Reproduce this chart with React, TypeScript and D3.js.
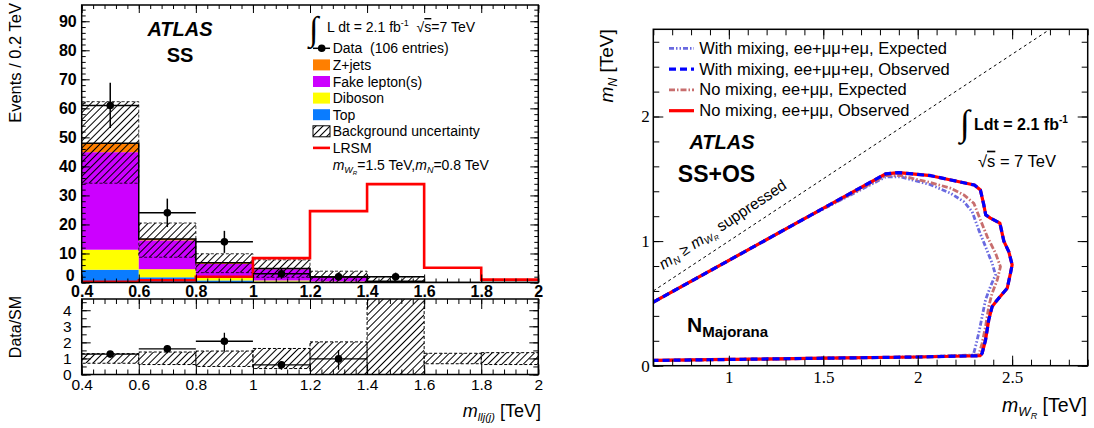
import React, { useRef, useEffect } from 'react';
import * as d3 from 'd3';

// ---- left plot: m_llj(j), SS channel ----
const binEdges = [0.4, 0.6, 0.8, 1.0, 1.2, 1.4, 1.6, 1.8, 2.0];
const topBkg = [4.4, 1.8, 0.7, 0.3, 0.1, 0.05, 0, 0];
const dibosonBkg = [6.9, 2.8, 0.9, 0.4, 0.25, 0.05, 0, 0];
const fakeBkg = [33.6, 9.9, 4.8, 3.9, 1.45, 0.3, 0, 0];
const zjetsBkg = [3.1, 0.5, 0.4, 0.2, 0.1, 0, 0, 0];
const bkgUncLow = [34.2, 8.7, 3.4, 1.8, 0, 0];
const bkgUncHigh = [62.3, 20.5, 9.9, 7.8, 3.9, 2.0];
const lrsmSignal = [0.2, 0.8, 2.0, 8.4, 24.6, 33.9, 5.1, 1.0];
const dataCounts = [61, 24, 14, 3, 2, 2];
const dataErr = [7.8, 4.9, 3.8, 1.7, 1.4, 1.4];
const yTicksTop = [0, 10, 20, 30, 40, 50, 60, 70, 80, 90];
const xTicksLeft = [0.4, 0.6, 0.8, 1, 1.2, 1.4, 1.6, 1.8, 2];

// ratio panel
const ratioVals = [1.27, 1.6, 2.07, 0.6, 0.97];
const ratioErrUp = [0.17, 0.23, 0.53, 0.21, 0.55];
const ratioErrDown = [0.17, 0.28, 0.61, 0.3, 0.67];
const ratioBandLow = [0.7, 0.62, 0.5, 0.37, 0, 0, 0.67, 0.62];
const ratioBandHigh = [1.3, 1.4, 1.46, 1.62, 2.03, 6, 1.32, 1.36];
const ratioYTicks = [0, 1, 2, 3, 4];

// ---- right plot: exclusion in (m_WR, m_N) ----
const obsNoMixing = [
  [0.6, 0.51], [1.0, 0.845], [1.4, 1.18], [1.83, 1.54], [1.9, 1.55], [2.07, 1.525],
  [2.3, 1.45], [2.332, 1.41], [2.35, 1.29], [2.36, 1.21], [2.385, 1.185], [2.435, 1.145],
  [2.456, 1.0], [2.482, 0.916], [2.5, 0.81], [2.491, 0.742], [2.474, 0.622], [2.421, 0.528],
  [2.394, 0.474], [2.376, 0.367], [2.359, 0.206], [2.341, 0.1], [2.33, 0.08],
  [2.0, 0.07], [1.5, 0.06], [1.0, 0.05], [0.6, 0.042],
];
const obsMixing = [
  [0.6, 0.51], [1.0, 0.845], [1.4, 1.18], [1.83, 1.54], [1.9, 1.55], [2.07, 1.525],
  [2.3, 1.45], [2.332, 1.41], [2.35, 1.29], [2.36, 1.21], [2.385, 1.185], [2.435, 1.145],
  [2.456, 1.0], [2.482, 0.916], [2.5, 0.81], [2.491, 0.742], [2.474, 0.622], [2.421, 0.528],
  [2.394, 0.474], [2.376, 0.367], [2.359, 0.206], [2.341, 0.1], [2.33, 0.08],
  [2.0, 0.07], [1.5, 0.06], [1.0, 0.05], [0.6, 0.042],
];
const expNoMixing = [
  [0.6, 0.51], [1.0, 0.845], [1.4, 1.18], [1.83, 1.525], [1.91, 1.525], [2.067, 1.47],
  [2.173, 1.425], [2.244, 1.371], [2.297, 1.304], [2.332, 1.17], [2.368, 1.036], [2.412, 0.903],
  [2.438, 0.795], [2.421, 0.688], [2.394, 0.582], [2.376, 0.474], [2.359, 0.313], [2.341, 0.18],
  [2.323, 0.086], [2.0, 0.07], [1.5, 0.06], [1.0, 0.05], [0.6, 0.042],
];
const expMixing = [
  [0.6, 0.51], [1.0, 0.845], [1.4, 1.18], [1.83, 1.515], [1.91, 1.515], [2.067, 1.453],
  [2.173, 1.385], [2.244, 1.317], [2.288, 1.237], [2.323, 1.09], [2.359, 0.956], [2.394, 0.822],
  [2.412, 0.729], [2.385, 0.635], [2.359, 0.528], [2.341, 0.394], [2.323, 0.26], [2.306, 0.153],
  [2.294, 0.086], [2.0, 0.07], [1.5, 0.06], [1.0, 0.05], [0.6, 0.042],
];
const xTicksRight = [1, 1.5, 2, 2.5];
const yTicksRight = [0, 1, 2];

const sans = "'Liberation Sans', Arial, Helvetica, sans-serif";
const serif = "'Liberation Serif', 'Times New Roman', serif";

function App() {
  const svgRef = useRef(null);

  useEffect(() => {
    const svg = d3.select(svgRef.current);
    svg.selectAll('*').remove();

    const defs = svg.append('defs');
    const pat = defs.append('pattern').attr('id', 'hatch')
      .attr('patternUnits', 'userSpaceOnUse').attr('width', 5).attr('height', 5)
      .attr('patternTransform', 'rotate(45)');
    pat.append('line').attr('x1', 2.5).attr('y1', -1).attr('x2', 2.5).attr('y2', 6)
      .attr('stroke', '#000').attr('stroke-width', 1);

    // ================= left plot =================
    const L = { left: 81.7, right: 538.3, top: 5, bottom: 282.5, rTop: 299, rBottom: 374.5 };
    const x = d3.scaleLinear().domain([0.4, 2]).range([L.left, L.right]);
    const y = d3.scaleLinear().domain([0, 95.6]).range([L.bottom, L.top]);
    const yr = d3.scaleLinear().domain([0, 4.7]).range([L.rBottom, L.rTop]);

    defs.append('clipPath').attr('id', 'clipTop').append('rect')
      .attr('x', L.left).attr('y', L.top).attr('width', L.right - L.left).attr('height', L.bottom - L.top);
    defs.append('clipPath').attr('id', 'clipRatio').append('rect')
      .attr('x', L.left).attr('y', L.rTop).attr('width', L.right - L.left).attr('height', L.rBottom - L.rTop);

    const rows = binEdges.slice(0, -1).map((lo, i) => ({
      lo, hi: binEdges[i + 1],
      top: topBkg[i], diboson: dibosonBkg[i], fake: fakeBkg[i], zjets: zjetsBkg[i],
    }));
    const colors = { top: '#0a7cff', diboson: '#ffff00', fake: '#cc00ff', zjets: '#ff7f00' };
    const stacked = d3.stack().keys(['top', 'diboson', 'fake', 'zjets'])(rows);
    const totals = rows.map(r => r.top + r.diboson + r.fake + r.zjets);

    const gTop = svg.append('g').attr('clip-path', 'url(#clipTop)');
    gTop.selectAll('g.layer').data(stacked).join('g').attr('class', 'layer')
      .attr('fill', d => colors[d.key])
      .selectAll('rect').data(d => d).join('rect')
      .attr('x', d => x(d.data.lo)).attr('width', d => x(d.data.hi) - x(d.data.lo))
      .attr('y', d => y(d[1])).attr('height', d => y(d[0]) - y(d[1]));

    gTop.selectAll('rect.unc').data(bkgUncHigh).join('rect').attr('class', 'unc')
      .attr('x', (d, i) => x(binEdges[i])).attr('width', (d, i) => x(binEdges[i + 1]) - x(binEdges[i]))
      .attr('y', d => y(d)).attr('height', (d, i) => y(bkgUncLow[i]) - y(d))
      .attr('fill', 'url(#hatch)').attr('stroke', '#000').attr('stroke-width', 0.8)
      .attr('stroke-dasharray', '3,2');

    const stepLine = (vals, ys) => d3.line()
      .x((d, i) => x(binEdges[i])).y(d => ys(d)).curve(d3.curveStepAfter)([...vals, vals[vals.length - 1]]);

    gTop.append('path').attr('d', stepLine(totals, y))
      .attr('fill', 'none').attr('stroke', '#000').attr('stroke-width', 1.5);
    gTop.append('path').attr('d', stepLine(lrsmSignal, y))
      .attr('fill', 'none').attr('stroke', '#ff0000').attr('stroke-width', 2.6);

    const gData = svg.append('g');
    dataCounts.forEach((v, i) => {
      const cx = x((binEdges[i] + binEdges[i + 1]) / 2);
      gData.append('line').attr('x1', x(binEdges[i])).attr('x2', x(binEdges[i + 1]))
        .attr('y1', y(v)).attr('y2', y(v)).attr('stroke', '#000').attr('stroke-width', 1.5);
      gData.append('line').attr('x1', cx).attr('x2', cx)
        .attr('y1', y(v - dataErr[i])).attr('y2', y(v + dataErr[i])).attr('stroke', '#000').attr('stroke-width', 1.5);
      gData.append('circle').attr('cx', cx).attr('cy', y(v)).attr('r', 3.8).attr('fill', '#000');
    });

    // ratio panel
    const gRatio = svg.append('g').attr('clip-path', 'url(#clipRatio)');
    gRatio.selectAll('rect').data(ratioBandHigh).join('rect')
      .attr('x', (d, i) => x(binEdges[i])).attr('width', (d, i) => x(binEdges[i + 1]) - x(binEdges[i]))
      .attr('y', d => yr(d)).attr('height', (d, i) => yr(ratioBandLow[i]) - yr(d))
      .attr('fill', 'url(#hatch)').attr('stroke', '#000').attr('stroke-width', 1)
      .attr('stroke-dasharray', '3,2');
    ratioVals.forEach((v, i) => {
      const cx = x((binEdges[i] + binEdges[i + 1]) / 2);
      gRatio.append('line').attr('x1', x(binEdges[i])).attr('x2', x(binEdges[i + 1]))
        .attr('y1', yr(v)).attr('y2', yr(v)).attr('stroke', '#000').attr('stroke-width', 1.3);
      gRatio.append('line').attr('x1', cx).attr('x2', cx)
        .attr('y1', yr(v - ratioErrDown[i])).attr('y2', yr(v + ratioErrUp[i])).attr('stroke', '#000').attr('stroke-width', 1.3);
      gRatio.append('circle').attr('cx', cx).attr('cy', yr(v)).attr('r', 3.8).attr('fill', '#000');
    });

    // frames
    svg.append('rect').attr('x', L.left).attr('y', L.top).attr('width', L.right - L.left)
      .attr('height', L.bottom - L.top).attr('fill', 'none').attr('stroke', '#000').attr('stroke-width', 1.5);
    svg.append('rect').attr('x', L.left).attr('y', L.rTop).attr('width', L.right - L.left)
      .attr('height', L.rBottom - L.rTop).attr('fill', 'none').attr('stroke', '#000').attr('stroke-width', 1.5);

    const style = (g, size, weight, family) => {
      g.attr('font-size', size).attr('font-family', family).attr('font-weight', weight);
      g.select('.domain').remove();
      g.selectAll('line').attr('stroke', '#000');
      g.selectAll('text').attr('fill', '#000');
    };
    const noLabel = () => '';
    const fmt = d3.format('~g');
    const xMinor = d3.range(0, 41).map(i => 0.4 + i * 0.04);

    // top panel axes
    svg.append('g').attr('transform', `translate(${L.left},0)`)
      .call(d3.axisLeft(y).tickValues(yTicksTop).tickSize(-8).tickPadding(5).tickFormat(fmt))
      .call(g => style(g, 16, 'bold', sans))
      .call(g => g.selectAll('text').filter(d => d === 0).attr('dy', '-0.12em').attr('dx', '-2'));
    svg.append('g').attr('transform', `translate(${L.left},0)`)
      .call(d3.axisLeft(y).tickValues(d3.range(0, 95, 2)).tickSize(-4).tickFormat(noLabel))
      .call(g => style(g, 10, 'normal', sans));
    svg.append('g').attr('transform', `translate(${L.right},0)`)
      .call(d3.axisRight(y).tickValues(yTicksTop).tickSize(-8).tickFormat(noLabel))
      .call(g => style(g, 10, 'normal', sans));
    svg.append('g').attr('transform', `translate(${L.right},0)`)
      .call(d3.axisRight(y).tickValues(d3.range(0, 95, 2)).tickSize(-4).tickFormat(noLabel))
      .call(g => style(g, 10, 'normal', sans));
    svg.append('g').attr('transform', `translate(0,${L.bottom})`)
      .call(d3.axisBottom(x).tickValues(xTicksLeft).tickSize(-8).tickPadding(3).tickFormat(fmt))
      .call(g => style(g, 16, 'bold', sans));
    svg.append('g').attr('transform', `translate(0,${L.bottom})`)
      .call(d3.axisBottom(x).tickValues(xMinor).tickSize(-4).tickFormat(noLabel))
      .call(g => style(g, 10, 'normal', sans));
    svg.append('g').attr('transform', `translate(0,${L.top})`)
      .call(d3.axisTop(x).tickValues(xTicksLeft).tickSize(-8).tickFormat(noLabel))
      .call(g => style(g, 10, 'normal', sans));
    svg.append('g').attr('transform', `translate(0,${L.top})`)
      .call(d3.axisTop(x).tickValues(xMinor).tickSize(-4).tickFormat(noLabel))
      .call(g => style(g, 10, 'normal', sans));

    // ratio axes
    svg.append('g').attr('transform', `translate(${L.left},0)`)
      .call(d3.axisLeft(yr).tickValues(ratioYTicks).tickSize(-9).tickPadding(10).tickFormat(fmt))
      .call(g => style(g, 15.5, 'normal', sans));
    svg.append('g').attr('transform', `translate(${L.left},0)`)
      .call(d3.axisLeft(yr).tickValues(d3.range(0, 4.7, 0.5)).tickSize(-5).tickFormat(noLabel))
      .call(g => style(g, 10, 'normal', sans));
    svg.append('g').attr('transform', `translate(${L.right},0)`)
      .call(d3.axisRight(yr).tickValues(ratioYTicks).tickSize(-9).tickFormat(noLabel))
      .call(g => style(g, 10, 'normal', sans));
    svg.append('g').attr('transform', `translate(${L.right},0)`)
      .call(d3.axisRight(yr).tickValues(d3.range(0, 4.7, 0.5)).tickSize(-5).tickFormat(noLabel))
      .call(g => style(g, 10, 'normal', sans));
    svg.append('g').attr('transform', `translate(0,${L.rBottom})`)
      .call(d3.axisBottom(x).tickValues(xTicksLeft).tickSize(-10).tickPadding(4.5).tickFormat(fmt))
      .call(g => style(g, 15.5, 'normal', sans));
    svg.append('g').attr('transform', `translate(0,${L.rBottom})`)
      .call(d3.axisBottom(x).tickValues(xMinor).tickSize(-5).tickFormat(noLabel))
      .call(g => style(g, 10, 'normal', sans));
    svg.append('g').attr('transform', `translate(0,${L.rTop})`)
      .call(d3.axisTop(x).tickValues(xTicksLeft).tickSize(-10).tickFormat(noLabel))
      .call(g => style(g, 10, 'normal', sans));
    svg.append('g').attr('transform', `translate(0,${L.rTop})`)
      .call(d3.axisTop(x).tickValues(xMinor).tickSize(-5).tickFormat(noLabel))
      .call(g => style(g, 10, 'normal', sans));

    // left texts
    const txt = (px, py, size, opts = {}) => svg.append('text')
      .attr('x', px).attr('y', py).attr('font-size', size)
      .attr('font-family', opts.family || sans).attr('font-weight', opts.weight || 'normal')
      .attr('font-style', opts.style || 'normal').attr('text-anchor', opts.anchor || 'start')
      .attr('fill', '#000');

    svg.append('text').attr('transform', 'translate(21,3) rotate(-90)').attr('text-anchor', 'end')
      .attr('font-family', sans).attr('font-size', 16.5).text('Events / 0.2 TeV');
    svg.append('text').attr('transform', 'translate(21,327) rotate(-90)').attr('text-anchor', 'middle')
      .attr('font-family', sans).attr('font-size', 16).text('Data/SM');
    txt(180, 36, 20, { weight: 'bold', style: 'italic', anchor: 'middle' }).text('ATLAS');
    txt(180, 62, 20, { weight: 'bold', anchor: 'middle' }).text('SS');

    const xt = txt(541, 417, 18, { anchor: 'end' });
    xt.append('tspan').attr('font-style', 'italic').text('m');
    xt.append('tspan').attr('font-style', 'italic').attr('font-size', 11).attr('dy', 4).text('llj(j)');
    xt.append('tspan').attr('dy', -4).text(' [TeV]');

    // left legend
    txt(309, 40, 34, { family: serif }).text('∫');
    const lum = txt(327, 32, 14);
    lum.append('tspan').text('L dt = 2.1 fb');
    lum.append('tspan').attr('font-size', 9).attr('dy', -6).text('-1');
    lum.append('tspan').attr('dy', 6).text('\u00a0\u00a0√');
    lum.append('tspan').attr('text-decoration', 'overline').text('s');
    lum.append('tspan').text('=7 TeV');

    const legLeft = [
      { label: 'Data\u00a0\u00a0(106 entries)', kind: 'data' },
      { label: 'Z+jets', kind: 'box', fill: colors.zjets },
      { label: 'Fake lepton(s)', kind: 'box', fill: colors.fake },
      { label: 'Diboson', kind: 'box', fill: colors.diboson },
      { label: 'Top', kind: 'box', fill: colors.top },
      { label: 'Background uncertainty', kind: 'hatch' },
      { label: 'LRSM', kind: 'line' },
    ];
    legLeft.forEach((e, i) => {
      const cy = 48.3 + i * 16.6;
      if (e.kind === 'data') {
        svg.append('line').attr('x1', 313).attr('x2', 330).attr('y1', cy).attr('y2', cy).attr('stroke', '#000').attr('stroke-width', 1.5);
        svg.append('circle').attr('cx', 321.7).attr('cy', cy).attr('r', 3.8).attr('fill', '#000');
      } else if (e.kind === 'box') {
        svg.append('rect').attr('x', 313).attr('y', cy - 5.5).attr('width', 17).attr('height', 11).attr('fill', e.fill);
      } else if (e.kind === 'hatch') {
        svg.append('rect').attr('x', 313).attr('y', cy - 5.5).attr('width', 17).attr('height', 11)
          .attr('fill', 'url(#hatch)').attr('stroke', '#000').attr('stroke-width', 1);
      } else {
        svg.append('line').attr('x1', 313).attr('x2', 330).attr('y1', cy).attr('y2', cy).attr('stroke', '#ff0000').attr('stroke-width', 2.6);
      }
      txt(332.7, cy + 5, 14).text(e.label);
    });
    const sig = txt(332.7, 48.3 + 7 * 16.6 + 5, 14);
    sig.append('tspan').attr('font-style', 'italic').text('m');
    sig.append('tspan').attr('font-style', 'italic').attr('font-size', 9).attr('dy', 3).text('W');
    sig.append('tspan').attr('font-style', 'italic').attr('font-size', 6).attr('dy', 2).text('R');
    sig.append('tspan').attr('dy', -5).text('=1.5 TeV,');
    sig.append('tspan').attr('font-style', 'italic').text('m');
    sig.append('tspan').attr('font-style', 'italic').attr('font-size', 9).attr('dy', 3).text('N');
    sig.append('tspan').attr('dy', -3).text('=0.8 TeV');

    // ================= right plot =================
    const R = { left: 653.3, right: 1087.7, top: 29.3, bottom: 365.7 };
    const xR = d3.scaleLinear().domain([0.6, 2.9]).range([R.left, R.right]);
    const yR = d3.scaleLinear().domain([0, 2.7]).range([R.bottom, R.top]);
    defs.append('clipPath').attr('id', 'clipRight').append('rect')
      .attr('x', R.left).attr('y', R.top).attr('width', R.right - R.left).attr('height', R.bottom - R.top);

    const gR = svg.append('g').attr('clip-path', 'url(#clipRight)');
    // kinematic boundary m_N = m_WR
    gR.append('line').attr('x1', xR(0.6)).attr('y1', yR(0.6)).attr('x2', xR(2.7)).attr('y2', yR(2.7))
      .attr('stroke', '#000').attr('stroke-width', 1).attr('stroke-dasharray', '3,3');

    const contour = d3.line().x(d => xR(d[0])).y(d => yR(d[1]));
    const styles = {
      expMix: { color: '#6a6ae0', dash: '5,2,1.5,2,1.5,2', width: 2.8 },
      obsMix: { color: '#0000ff', dash: '7,4', width: 3.2 },
      expNo: { color: '#c86e6e', dash: '6,2,1.5,2', width: 2.8 },
      obsNo: { color: '#ff0000', dash: null, width: 3.2 },
    };
    const drawC = (pts, s) => gR.append('path').attr('d', contour(pts)).attr('fill', 'none')
      .attr('stroke', s.color).attr('stroke-width', s.width).attr('stroke-dasharray', s.dash)
      .attr('stroke-linejoin', 'round');
    drawC(expMixing, styles.expMix);
    drawC(expNoMixing, styles.expNo);
    drawC(obsNoMixing, styles.obsNo);
    drawC(obsMixing, styles.obsMix);

    svg.append('rect').attr('x', R.left).attr('y', R.top).attr('width', R.right - R.left)
      .attr('height', R.bottom - R.top).attr('fill', 'none').attr('stroke', '#000').attr('stroke-width', 1.5);

    const xMinorR = d3.range(6, 30).map(i => i / 10);
    const yMinorR = d3.range(0, 14).map(i => i / 5);
    svg.append('g').attr('transform', `translate(0,${R.bottom})`)
      .call(d3.axisBottom(xR).tickValues(xTicksRight).tickSize(-10).tickPadding(5.5).tickFormat(fmt))
      .call(g => style(g, 17, 'normal', serif));
    svg.append('g').attr('transform', `translate(0,${R.bottom})`)
      .call(d3.axisBottom(xR).tickValues(xMinorR).tickSize(-6).tickFormat(noLabel))
      .call(g => style(g, 10, 'normal', serif));
    svg.append('g').attr('transform', `translate(0,${R.top})`)
      .call(d3.axisTop(xR).tickValues(xTicksRight).tickSize(-10).tickFormat(noLabel))
      .call(g => style(g, 10, 'normal', serif));
    svg.append('g').attr('transform', `translate(0,${R.top})`)
      .call(d3.axisTop(xR).tickValues(xMinorR).tickSize(-6).tickFormat(noLabel))
      .call(g => style(g, 10, 'normal', serif));
    svg.append('g').attr('transform', `translate(${R.left},0)`)
      .call(d3.axisLeft(yR).tickValues(yTicksRight).tickSize(-10).tickPadding(3.5).tickFormat(fmt))
      .call(g => style(g, 17, 'normal', serif));
    svg.append('g').attr('transform', `translate(${R.left},0)`)
      .call(d3.axisLeft(yR).tickValues(yMinorR).tickSize(-6).tickFormat(noLabel))
      .call(g => style(g, 10, 'normal', serif));
    svg.append('g').attr('transform', `translate(${R.right},0)`)
      .call(d3.axisRight(yR).tickValues(yTicksRight).tickSize(-10).tickFormat(noLabel))
      .call(g => style(g, 10, 'normal', serif));
    svg.append('g').attr('transform', `translate(${R.right},0)`)
      .call(d3.axisRight(yR).tickValues(yMinorR).tickSize(-6).tickFormat(noLabel))
      .call(g => style(g, 10, 'normal', serif));

    // right titles
    const yt = svg.append('text').attr('transform', `translate(613,${R.top}) rotate(-90)`)
      .attr('text-anchor', 'end').attr('font-family', sans).attr('font-size', 19);
    yt.append('tspan').attr('font-style', 'italic').text('m');
    yt.append('tspan').attr('font-style', 'italic').attr('font-size', 12).attr('dy', 4).text('N');
    yt.append('tspan').attr('dy', -4).text(' [TeV]');

    const xtR = txt(1087, 412, 19.5, { anchor: 'end' });
    xtR.append('tspan').attr('font-style', 'italic').text('m');
    xtR.append('tspan').attr('font-style', 'italic').attr('font-size', 13).attr('dy', 4).text('W');
    xtR.append('tspan').attr('font-style', 'italic').attr('font-size', 9).attr('dy', 3).text('R');
    xtR.append('tspan').attr('dy', -7).text(' [TeV]');

    // right legend
    const legRight = [
      { label: 'With mixing, ee+μμ+eμ, Expected', s: styles.expMix },
      { label: 'With mixing, ee+μμ+eμ, Observed', s: styles.obsMix },
      { label: 'No mixing, ee+μμ, Expected', s: styles.expNo },
      { label: 'No mixing, ee+μμ, Observed', s: styles.obsNo },
    ];
    legRight.forEach((e, i) => {
      const cy = 48.3 + i * 20.8;
      svg.append('line').attr('x1', 669).attr('x2', 694).attr('y1', cy).attr('y2', cy)
        .attr('stroke', e.s.color).attr('stroke-width', e.s.width).attr('stroke-dasharray', e.s.dash);
      txt(699.3, cy + 5.5, 16.5).text(e.label);
    });

    txt(722, 149, 20, { weight: 'bold', style: 'italic', anchor: 'middle' }).text('ATLAS');
    txt(716.5, 182, 23, { weight: 'bold', anchor: 'middle' }).text('SS+OS');

    txt(960, 135, 36, { family: serif }).text('∫');
    const lumR = txt(974, 130, 16, { weight: 'bold' });
    lumR.append('tspan').text('Ldt = 2.1 fb');
    lumR.append('tspan').attr('font-size', 10).attr('dy', -7).text('-1');
    const sR = txt(978, 166.7, 16.5);
    sR.append('tspan').text('√');
    sR.append('tspan').attr('text-decoration', 'overline').text('s');
    sR.append('tspan').text(' = 7 TeV');

    const nm = txt(687, 332, 21, { weight: 'bold' });
    nm.append('tspan').text('N');
    nm.append('tspan').attr('font-size', 15).attr('dy', 5).text('Majorana');

    const ang = -Math.atan((yR(0) - yR(1)) / (xR(1) - xR(0))) * 180 / Math.PI;
    const sup = svg.append('text')
      .attr('transform', `translate(${xR(0.653)},${yR(0.768)}) rotate(${ang})`)
      .attr('font-family', sans).attr('font-size', 15.5).attr('fill', '#000');
    sup.append('tspan').attr('font-style', 'italic').text('m');
    sup.append('tspan').attr('font-style', 'italic').attr('font-size', 10).attr('dy', 3).text('N');
    sup.append('tspan').attr('dy', -3).text(' ≥ ');
    sup.append('tspan').attr('font-style', 'italic').text('m');
    sup.append('tspan').attr('font-style', 'italic').attr('font-size', 10).attr('dy', 3).text('W');
    sup.append('tspan').attr('font-style', 'italic').attr('font-size', 7).attr('dy', 2).text('R');
    sup.append('tspan').attr('dy', -5).text(' suppressed');
  }, []);

  return (
    <svg ref={svgRef} width={1094} height={428}
      style={{ position: 'absolute', left: 0, top: 0, background: '#fff' }} />
  );
}

export default App;
